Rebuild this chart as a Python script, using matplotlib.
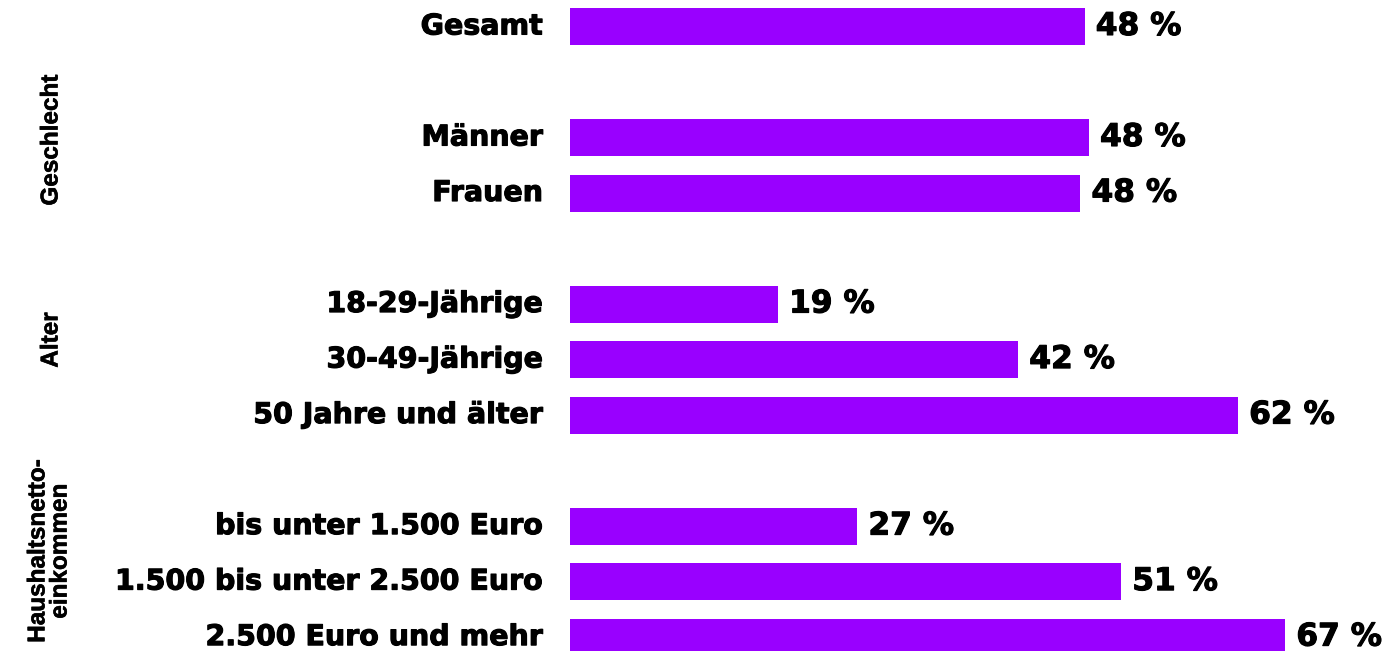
import matplotlib
matplotlib.use("Agg")
import matplotlib.pyplot as plt
import matplotlib.patheffects as pe
from matplotlib import font_manager as fm

categories = ["Gesamt", "Männer", "Frauen", "18-29-Jährige", "30-49-Jährige",
              "50 Jahre und älter", "bis unter 1.500 Euro",
              "1.500 bis unter 2.500 Euro", "2.500 Euro und mehr"]
values = [48.0, 48.4, 47.6, 19.4, 41.8, 62.3, 26.8, 51.4, 66.7]
slots = [0, 2, 3, 5, 6, 7, 9, 10, 11]
groups = ["Geschlecht", "Alter", "Haushaltsnetto-\neinkommen"]

# pick a regular-width Liberation Sans Bold file
gfont = None
for f in fm.fontManager.ttflist:
    if (f.name == "Liberation Sans" and f.weight in (700, "bold")
            and "Narrow" not in f.fname and "Italic" not in f.fname
            and f.style == "normal"):
        gfont = fm.FontProperties(fname=f.fname, size=17.5)
        break
if gfont is None:
    gfont = fm.FontProperties(family="DejaVu Sans", weight="bold", size=16)

color = "#9900FF"
thick = [pe.withStroke(linewidth=0.8, foreground="black")]
fig = plt.figure(figsize=(13.84, 6.51), dpi=100)
ax = fig.add_axes([570 / 1384, 0, 1 - 570 / 1384, 1])
ax.barh(slots, values, height=0.667, color=color)
ax.set_xlim(0, 75.9)
ax.set_ylim(11.25, -0.477)
ax.axis("off")

for s, v, c in zip(slots, values, categories):
    ax.annotate(f"{round(v)} %", xy=(v, s), xytext=(11, 0), textcoords="offset pixels",
                va="center", ha="left", fontsize=22.5, fontweight="bold",
                family="DejaVu Sans", path_effects=thick)
    ax.annotate(c, xy=(0, s), xytext=(-27, 0), textcoords="offset pixels",
                va="center", ha="right", fontsize=20.5, fontweight="bold",
                family="DejaVu Sans", path_effects=thick)

H = 651
gthick = [pe.withStroke(linewidth=0.4, foreground="black")]
gkw = dict(rotation=90, ha="center", va="center", fontproperties=gfont,
           path_effects=gthick)
fig.text(51 / 1384, 1 - 140 / H, groups[0], **gkw)
fig.text(51 / 1384, 1 - 340 / H, groups[1], **gkw)
fig.text(49 / 1384, 1 - 551 / H, groups[2], multialignment="center",
         linespacing=0.95, **gkw)

fig.savefig("out.png", dpi=100)
